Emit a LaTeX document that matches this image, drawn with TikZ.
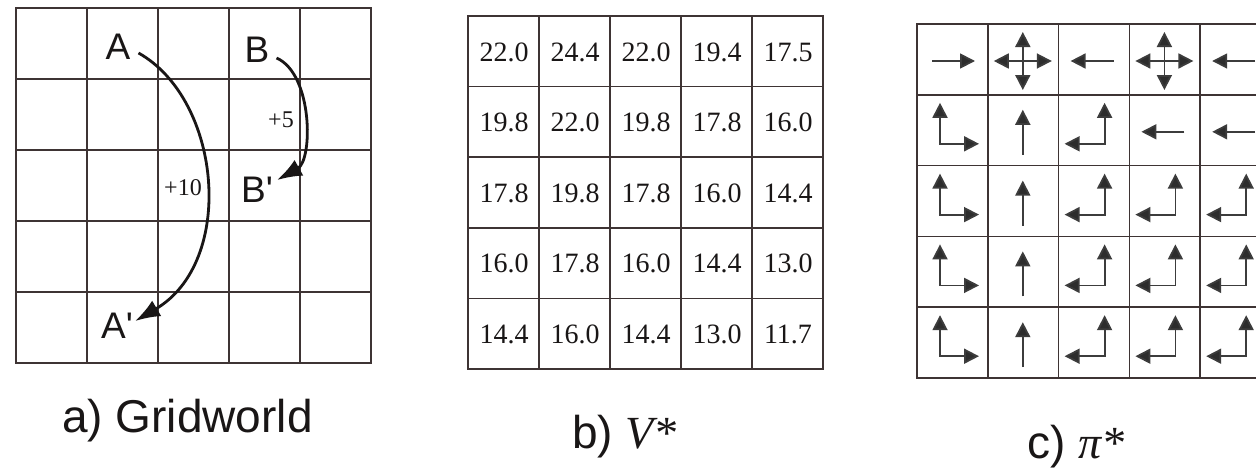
\documentclass[tikz,border=0pt]{standalone}
\usepackage{fontspec}
\setmainfont{Liberation Serif}
\newfontfamily\sansf{Liberation Sans}
\usetikzlibrary{arrows.meta}
\definecolor{gridc}{RGB}{62,52,52}
\definecolor{inkc}{RGB}{25,22,22}
\definecolor{polc}{RGB}{60,60,60}
\definecolor{headc}{RGB}{45,45,45}
\tikzset{
  gridline/.style={line width=1.5pt, draw=gridc, line cap=rect},
  bigarc/.style={line width=2.8pt, draw=inkc, -{Latex[length=25pt,width=18pt]}},
  letter/.style={inner sep=0pt, text=inkc, font=\sansf\fontsize{37}{40}\selectfont},
  reward/.style={inner sep=0pt, text=inkc, font=\fontsize{24}{26}\selectfont},
  value/.style={inner sep=0pt, text=inkc, font=\fontsize{28}{30}\selectfont},
  caption/.style={inner sep=0pt, anchor=base west, text=inkc, font=\sansf\fontsize{46}{50}\selectfont},
  pol/.style={line width=1.8pt, draw=polc, {Triangle[length=15pt,width=15pt,fill=headc]}-{Triangle[length=15pt,width=15pt,fill=headc]}},
  polone/.style={line width=1.8pt, draw=polc, -{Triangle[length=15pt,width=15pt,fill=headc]}},
  pics/pR/.style={code={\draw[polone] (15,37) -- (58,37);}},
  pics/pL/.style={code={\draw[polone] (55,37) -- (12,37);}},
  pics/pU/.style={code={\draw[polone] (35,60) -- (35,15);}},
  pics/pUR/.style={code={\draw[pol] (23,8) -- (23,49) -- (62,49);}},
  pics/pUL/.style={code={\draw[pol] (46,8) -- (46,49) -- (6,49);}},
  pics/pX/.style={code={\draw[pol] (6,37) -- (64,37); \draw[pol] (35,8) -- (35,66);}}
}
\begin{document}
\begin{tikzpicture}[x=1pt,y=-1pt]
\useasboundingbox (0,0) rectangle (1256,469);
\clip (0,0) rectangle (1256,469);
\fill[white] (0,0) rectangle (1256,469);

% ---------- a) Gridworld ----------
\foreach \i in {0,...,5} {
  \draw[gridline] ({16+71*\i},8) -- ({16+71*\i},363);
  \draw[gridline] (16,{8+71*\i}) -- (371,{8+71*\i});
}
\node[letter] (A)  at (118,47)  {A};
\node[letter] (B)  at (257,50)  {B};
\node[letter] (Bp) at (257,190) {B\textquotesingle};
\node[letter] (Ap) at (117,326) {A\textquotesingle};
\node[reward] (r10) at (183,188) {+10};
\node[reward] (r5)  at (281,120) {+5};
\draw[bigarc] ([shift={(8,6)}]A.east) .. controls (222,100) and (236,262) .. ([shift={(2,8)}]Ap.north east);
\draw[bigarc] ([shift={(7,8)}]B.east) .. controls (313,74) and (313,160) .. ([shift={(4,3)}]Bp.north east);
\node[caption] (capa) at (62,432) {a) Gridworld};

% ---------- b) V* ----------
\foreach \i in {0,...,5} {
  \draw[gridline] ({468+71*\i},16) -- ({468+71*\i},369);
  \draw[gridline] (468,{16+70.6*\i}) -- (823,{16+70.6*\i});
}
\foreach \row [count=\r from 0] in {
  {22.0,24.4,22.0,19.4,17.5},
  {19.8,22.0,19.8,17.8,16.0},
  {17.8,19.8,17.8,16.0,14.4},
  {16.0,17.8,16.0,14.4,13.0},
  {14.4,16.0,14.4,13.0,11.7}} {
  \foreach \v [count=\c from 0] in \row {
    \node[value] (v-\r-\c) at ({468+71*\c+36},{16+70.6*\r+36}) {\v};
  }
}
\node[caption] (capb) at (572,448) {b) {\rmfamily\itshape V*}};

% ---------- c) pi* ----------
\foreach \i in {0,...,5} {
  \draw[gridline] ({917+70.8*\i},24) -- ({917+70.8*\i},378);
  \draw[gridline] (917,{24+70.8*\i}) -- (1280,{24+70.8*\i});
}
\foreach \row [count=\r from 0] in {
  {pR,pX,pL,pX,pL},
  {pUR,pU,pUL,pL,pL},
  {pUR,pU,pUL,pUL,pUL},
  {pUR,pU,pUL,pUL,pUL},
  {pUR,pU,pUL,pUL,pUL}} {
  \foreach \p [count=\c from 0] in \row {
    \pic at ({917+70.8*\c},{24+70.8*\r}) {\p};
  }
}
\node[caption] (capc) at (1027,458) {c) {\rmfamily\itshape π*}};
\end{tikzpicture}
\end{document}
